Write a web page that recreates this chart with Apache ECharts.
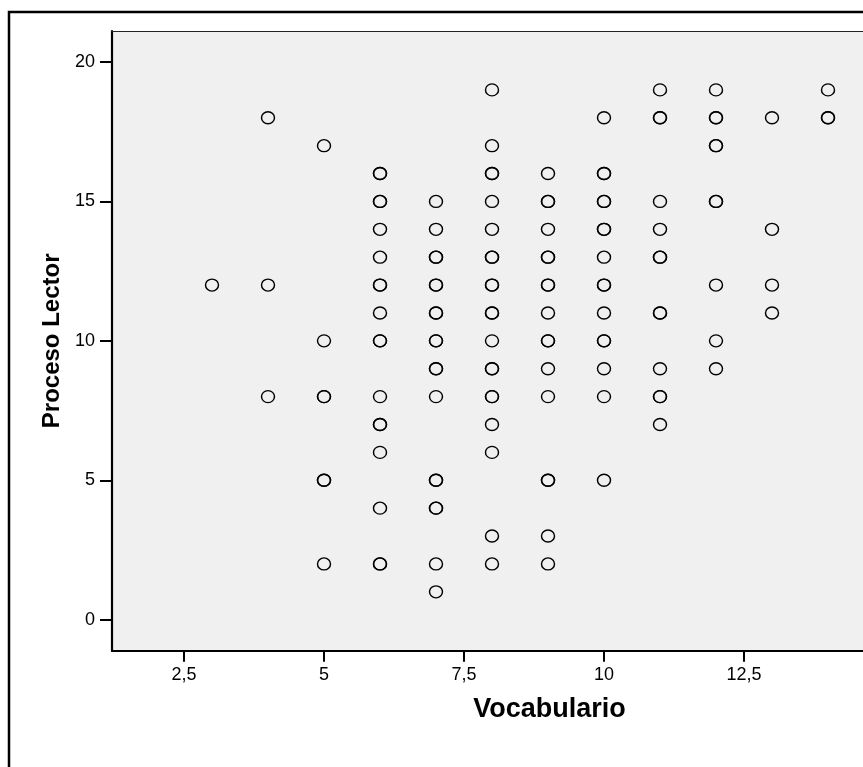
<!DOCTYPE html>
<html>
<head>
<meta charset="utf-8">
<script src="https://cdn.jsdelivr.net/npm/echarts@6/dist/echarts.min.js"></script>
<style>
html,body{margin:0;padding:0;background:#fff;}
#chart{width:863px;height:767px;}
</style>
</head>
<body>
<div id="chart"></div>
<script>
// Vocabulario values (x) and the Proceso Lector scores observed at each
const vocabValues = [3, 4, 5, 6, 7, 8, 9, 10, 11, 12, 13, 14];
const lectorByVocab = [
  [12],
  [18, 12, 8],
  [17, 10, 8, 5, 2],
  [16, 15, 14, 13, 12, 11, 10, 8, 7, 6, 4, 2],
  [15, 14, 13, 12, 11, 10, 9, 8, 5, 4, 2, 1],
  [19, 17, 16, 15, 14, 13, 12, 11, 10, 9, 8, 7, 6, 3, 2],
  [16, 15, 14, 13, 12, 11, 10, 9, 8, 5, 3, 2],
  [18, 16, 15, 14, 13, 12, 11, 10, 9, 8, 5],
  [19, 18, 15, 14, 13, 11, 9, 8, 7],
  [19, 18, 17, 15, 12, 10, 9],
  [18, 14, 12, 11],
  [19, 18]
];
// Points with more than one case (drawn darker through overlap)
const repeatedPoints = [
  [11,18],[14,18],[12,18],[12,17],[8,16],[10,16],[9,15],[10,15],[12,15],[10,14],
  [8,13],[9,13],[11,13],[8,12],[9,12],[10,12],[8,11],[11,11],[9,10],[10,10],
  [8,9],[8,8],[11,8],[6,16],[6,15],[6,12],[6,10],[6,7],[7,13],[7,12],
  [7,11],[7,10],[7,9],[5,8],[5,5],[7,5],[7,4],[6,2],[9,5]
];
const xTicks = [2.5, 5, 7.5, 10, 12.5];
const yTicks = [0, 5, 10, 15, 20];

const points = [];
vocabValues.forEach(function (v, i) {
  lectorByVocab[i].forEach(function (y) { points.push([v, y]); });
});
repeatedPoints.forEach(function (p) { points.push(p); });

const chart = echarts.init(document.getElementById('chart'), null, {renderer: 'canvas'});
const fmt = function (v) { return String(v).replace('.', ','); };
chart.setOption({
  animation: false,
  backgroundColor: '#ffffff',
  graphic: [
    {type: 'polyline', shape: {points: [[9, 780], [9, 12], [870, 12]]},
     style: {stroke: '#000', lineWidth: 2.5, fill: null}, z: 10}
  ],
  grid: {left: 112, top: 31, right: 0, bottom: 116.3, show: true,
         backgroundColor: '#f0f0f0', borderWidth: 0},
  xAxis: [{
    type: 'value', min: 1.2143, max: 14.625,
    name: 'Vocabulario', nameLocation: 'middle', nameGap: 45,
    nameTextStyle: {fontFamily: 'Liberation Sans', fontWeight: 'bold', fontSize: 27, color: '#000',
                    padding: [0, 0, 0, 124]},
    splitLine: {show: false},
    axisLine: {show: true, onZero: false, lineStyle: {color: '#000', width: 2.2}},
    axisTick: {show: true, length: 11, customValues: xTicks, lineStyle: {color: '#000', width: 2}},
    axisLabel: {customValues: xTicks, formatter: fmt, margin: 15,
                fontFamily: 'Liberation Sans', fontSize: 18, color: '#000'}
  }, {
    type: 'value', position: 'top', min: 1.2143, max: 14.625,
    splitLine: {show: false},
    axisLine: {show: true, onZero: false, lineStyle: {color: '#222', width: 1.2}},
    axisTick: {show: false}, axisLabel: {show: false}
  }],
  yAxis: {
    type: 'value', min: -1.112, max: 21.112,
    name: 'Proceso Lector', nameLocation: 'middle', nameGap: 45, nameRotate: 90,
    nameTextStyle: {fontFamily: 'Liberation Sans', fontWeight: 'bold', fontSize: 24, color: '#000'},
    splitLine: {show: false},
    axisLine: {show: true, onZero: false, lineStyle: {color: '#000', width: 2.2}},
    axisTick: {show: true, length: 12, customValues: yTicks, lineStyle: {color: '#000', width: 2}},
    axisLabel: {customValues: yTicks, formatter: fmt, margin: 17,
                fontFamily: 'Liberation Sans', fontSize: 18, color: '#000'}
  },
  series: [{
    type: 'scatter',
    xAxisIndex: 0,
    data: points,
    symbol: 'circle',
    symbolSize: [13, 12],
    itemStyle: {color: 'rgba(0,0,0,0)', borderColor: '#000', borderWidth: 1.4, opacity: 1},
    emphasis: {disabled: true}
  }]
});
</script>
</body>
</html>
